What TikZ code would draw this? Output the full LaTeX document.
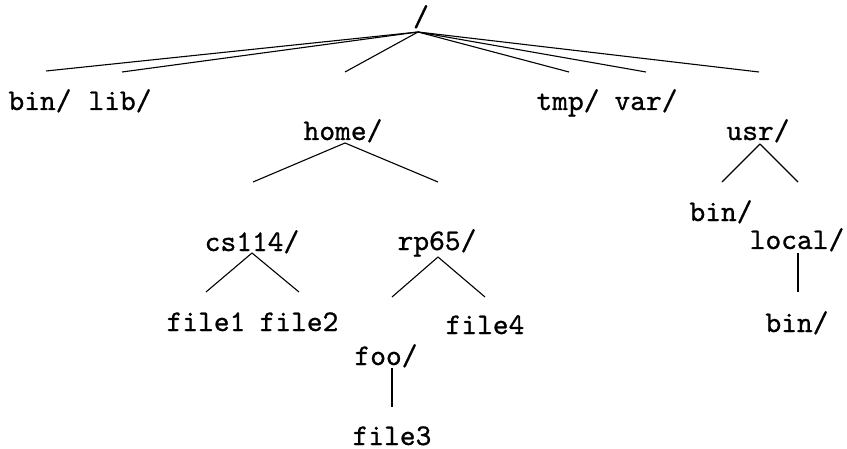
\documentclass[tikz,border=0pt]{standalone}
\usepackage{fontspec}
\setmonofont{lmmono10-regular.otf}[FakeBold=0.8]
\begin{document}
\begin{tikzpicture}[x=0.5pt,y=-0.5pt,
  lbl/.style={inner sep=0pt, anchor=base, font=\fontsize{15}{18}\selectfont\ttfamily},
  edge/.style={line width=0.55pt, black},
  vedge/.style={line width=1pt, black}]
\useasboundingbox (0,0) rectangle (847,449);
% labels
\node[lbl] (root) at (421,26) {/};
\node[lbl] (bin) at (40,110) {bin/};
\node[lbl] (lib) at (120,110) {lib/};
\node[lbl] (home) at (343,140) {home/};
\node[lbl] (tmp) at (568,110) {tmp/};
\node[lbl] (var) at (646,110) {var/};
\node[lbl] (usr) at (758,140) {usr/};
\node[lbl] (cs) at (252,251) {cs114/};
\node[lbl] (rp) at (437,250) {rp65/};
\node[lbl] (f1) at (206,331) {file1};
\node[lbl] (f2) at (299,331) {file2};
\node[lbl] (f4) at (485,334) {file4};
\node[lbl] (foo) at (386,365) {foo/};
\node[lbl] (f3) at (392,445) {file3};
\node[lbl] (ubin) at (721,221) {bin/};
\node[lbl] (local) at (797,249) {local/};
\node[lbl] (lbin) at (797,332) {bin/};
% line ends
\coordinate (eb) at (46,71);
\coordinate (el) at (122,72);
\coordinate (eh) at (345,72);
\coordinate (et) at (569,72);
\coordinate (ev) at (646,72);
\coordinate (eu) at (759,72);
\coordinate (ec) at (253,182);
\coordinate (er) at (438,182);
\coordinate (e1) at (206,292);
\coordinate (e2) at (299,292);
\coordinate (ef) at (392,297);
\coordinate (e4) at (485,297);
\coordinate (e3) at (392,407);
\coordinate (eub) at (722,182);
\coordinate (elo) at (798,182);
\coordinate (elb) at (798,292);
% connectors
\foreach \e in {eb,el,eh,et,ev,eu}
  \draw[edge] (root.base) ++(-3,6) -- (\e);
\foreach \e in {ec,er}
  \draw[edge] (home.base) ++(2,3) -- (\e);
\foreach \e in {e1,e2}
  \draw[edge] (cs.base) ++(0,2) -- (\e);
\foreach \e in {ef,e4}
  \draw[edge] (rp.base) ++(1,7) -- (\e);
\foreach \e in {eub,elo}
  \draw[edge] (usr.base) ++(2,4) -- (\e);
\draw[vedge] (foo.base) ++(6,3) -- (e3);
\draw[vedge] (local.base) ++(1,4) -- (elb);
\end{tikzpicture}
\end{document}
